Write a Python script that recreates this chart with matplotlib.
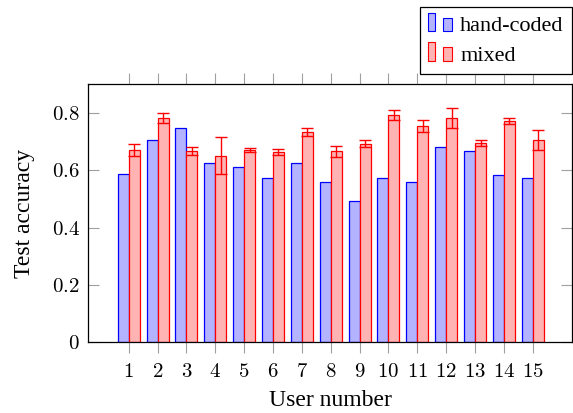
import numpy as np
import matplotlib
matplotlib.use("Agg")
import matplotlib.pyplot as plt
from matplotlib.patches import Rectangle
from matplotlib.container import BarContainer
from matplotlib.legend_handler import HandlerBase

plt.rcParams["font.family"] = ["Liberation Serif", "DejaVu Serif"]
plt.rcParams["mathtext.fontset"] = "cm"

users = np.arange(1, 16)
hand_coded = [0.586, 0.707, 0.746, 0.626, 0.613, 0.573, 0.626, 0.559,
              0.493, 0.573, 0.559, 0.680, 0.667, 0.585, 0.573]
mixed = [0.672, 0.783, 0.667, 0.651, 0.672, 0.664, 0.733, 0.666,
         0.693, 0.792, 0.756, 0.783, 0.696, 0.771, 0.706]
mixed_err = [0.021, 0.018, 0.013, 0.065, 0.007, 0.011, 0.014, 0.018,
             0.013, 0.017, 0.021, 0.035, 0.010, 0.010, 0.036]
yticks = [0, 0.2, 0.4, 0.6, 0.8]

blue_fill, blue_edge = "#b3b3ff", "#0000ff"
red_fill, red_edge = "#ffb3b3", "#ff0000"
width = 0.38


class PairHandler(HandlerBase):
    # pgfplots-style ybar legend image: a tall thin box next to a short wide one
    def create_artists(self, legend, orig_handle, xdescent, ydescent,
                       width, height, fontsize, trans):
        patch = orig_handle[0]
        fc = patch.get_facecolor()
        ec = patch.get_edgecolor()
        x0, y0 = -xdescent, -ydescent
        r1 = Rectangle((x0, y0), 4.8, 13.0, facecolor=fc, edgecolor=ec,
                       linewidth=0.8, transform=trans)
        r2 = Rectangle((x0 + 11.0, y0), 6.5, 9.4, facecolor=fc, edgecolor=ec,
                       linewidth=0.8, transform=trans)
        return [r1, r2]


fig = plt.figure(figsize=(5.73, 4.13), dpi=100)
ax = fig.add_axes([88 / 573, 1 - 342.3 / 413, 484 / 573, 258 / 413])

b1 = ax.bar(users - width / 2, hand_coded, width, color=blue_fill,
            edgecolor=blue_edge, linewidth=0.9, label="hand-coded", zorder=2)
b2 = ax.bar(users + width / 2, mixed, width, color=red_fill,
            edgecolor=red_edge, linewidth=0.9, label="mixed", zorder=2)
ax.errorbar(users + width / 2, mixed, yerr=mixed_err, fmt="none",
            ecolor=red_edge, elinewidth=1.0, capsize=4, capthick=1.0, zorder=3)

ax.set_xlim(-0.41, 16.36)
ax.set_ylim(0, 0.9)
ax.set_xticks(users)
ax.set_xticklabels([f"${u}$" for u in users])
ax.set_yticks(yticks)
ax.set_yticklabels(["$0$"] + [f"${v:.1f}$" for v in yticks[1:]])

ax.tick_params(axis="x", which="both", top=True, bottom=True, direction="out",
               length=8, width=0.8, color="#a0a0a0", labelsize=15, pad=7)
ax.tick_params(axis="y", which="both", left=True, right=True, direction="in",
               length=8, width=0.8, color="#a0a0a0", labelsize=15, pad=6)
for sp in ax.spines.values():
    sp.set_linewidth(0.9)

ax.set_xlabel("User number", fontsize=17, labelpad=6)
ax.set_ylabel("Test accuracy", fontsize=17, labelpad=12)

leg = ax.legend(handles=[b1, b2], handler_map={BarContainer: PairHandler()},
                loc="lower right", bbox_to_anchor=(1.0, 1 + 10.3 / 258),
                borderaxespad=0, prop={"family": "Liberation Serif", "size": 16},
                frameon=True, fancybox=False,
                edgecolor="black", framealpha=1, handlelength=1.15,
                handletextpad=0.3, labelspacing=0.4, borderpad=0.38)
leg.get_frame().set_linewidth(0.9)

fig.savefig("out.png", dpi=100)
